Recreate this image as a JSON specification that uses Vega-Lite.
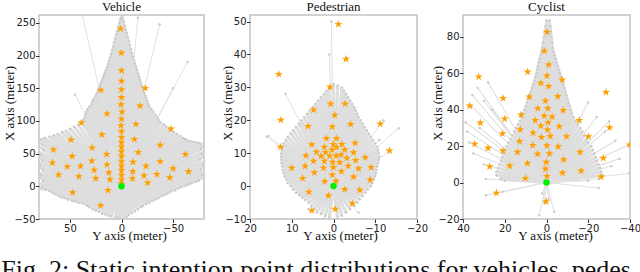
{
"$schema": "https://vega.github.io/schema/vega-lite/v6.json",
"padding": {"left": 1, "top": 0, "right": 0, "bottom": 0},
"background": "white",
"spacing": 46,
"bounds": "flush",
"title": {"text": "Fig. 2: Static intention point distributions for vehicles, pedes", "orient": "bottom", "anchor": "start", "frame": "bounds", "font": "Liberation Serif", "fontSize": 26, "fontWeight": "normal", "color": "#111111", "offset": 14, "dx": -1},
"config": {
  "view": {"stroke": "#c4c4c4", "strokeWidth": 1.5},
  "axis": {"domain": false, "grid": false, "ticks": true, "tickSize": 3.5, "tickColor": "#333333", "labelFont": "DejaVu Sans", "labelFontSize": 10, "labelColor": "#222222", "labelPadding": 0.5, "titleFont": "Liberation Serif", "titleFontSize": 13, "titleFontWeight": "normal", "titleColor": "#111111", "labelFlush": false, "labelOverlap": false},
  "title": {"font": "Liberation Serif", "fontSize": 13, "fontWeight": "normal", "offset": 1, "color": "#111111"}
},
"datasets": {
  "origin": [{"Y": 0, "X": 0}],
  "vehLines": [
    {"Y":80,"X":-4},{"Y":77,"X":0},{"Y":80,"X":4},{"Y":76,"X":8},{"Y":80,"X":12},{"Y":78,"X":16},{"Y":80,"X":20},{"Y":76,"X":24},{"Y":80,"X":28},{"Y":79,"X":32},{"Y":80,"X":36},{"Y":77,"X":40},{"Y":80,"X":44},{"Y":78,"X":48},{"Y":80,"X":52},{"Y":76,"X":56},{"Y":80,"X":60},{"Y":77,"X":64},{"Y":80,"X":68},{"Y":78,"X":72},
    {"Y":75,"X":74},{"Y":70,"X":76},{"Y":66,"X":78},{"Y":62,"X":80},{"Y":58,"X":83},{"Y":54,"X":85},{"Y":50,"X":88},{"Y":46,"X":91},{"Y":42,"X":94},{"Y":38,"X":97},
    {"Y":37,"X":101},{"Y":36,"X":105},{"Y":35,"X":110},{"Y":34,"X":114},{"Y":33,"X":118},{"Y":31,"X":122},{"Y":29,"X":126},{"Y":28,"X":130},{"Y":27,"X":134},{"Y":25,"X":138},{"Y":24,"X":142},{"Y":23,"X":146},{"Y":22,"X":150},{"Y":21,"X":154},{"Y":20,"X":158},{"Y":19,"X":162},{"Y":18,"X":166},{"Y":17,"X":170},{"Y":16,"X":174},{"Y":15,"X":178},{"Y":14,"X":182},{"Y":13,"X":187},{"Y":12,"X":192},{"Y":11,"X":197},{"Y":10,"X":202},{"Y":9,"X":208},{"Y":8,"X":214},{"Y":7,"X":220},{"Y":6,"X":226},{"Y":5,"X":232},{"Y":4,"X":238},{"Y":3,"X":244},{"Y":2,"X":250},{"Y":1,"X":256},{"Y":0,"X":262},
    {"Y":-1,"X":258},{"Y":-2,"X":252},{"Y":-3,"X":246},{"Y":-4,"X":240},{"Y":-5,"X":234},{"Y":-6,"X":228},{"Y":-7,"X":222},{"Y":-8,"X":216},{"Y":-9,"X":210},{"Y":-10,"X":204},{"Y":-11,"X":198},{"Y":-12,"X":193},{"Y":-13,"X":188},{"Y":-14,"X":183},{"Y":-15,"X":178},{"Y":-16,"X":173},{"Y":-17,"X":168},{"Y":-18,"X":163},{"Y":-19,"X":158},{"Y":-20,"X":153},{"Y":-21,"X":148},{"Y":-22,"X":143},{"Y":-23,"X":139},{"Y":-24,"X":135},{"Y":-25,"X":130},{"Y":-26,"X":126},{"Y":-27,"X":122},{"Y":-29,"X":118},{"Y":-31,"X":114},{"Y":-33,"X":109},{"Y":-35,"X":105},{"Y":-36,"X":101},
    {"Y":-38,"X":98},{"Y":-41,"X":95},{"Y":-43,"X":92},{"Y":-46,"X":89},{"Y":-48,"X":86},{"Y":-51,"X":83},{"Y":-54,"X":80},{"Y":-57,"X":77},{"Y":-60,"X":74},{"Y":-62,"X":72},{"Y":-64,"X":70},{"Y":-67,"X":69},{"Y":-70,"X":68},{"Y":-73,"X":67},{"Y":-76,"X":66},{"Y":-80,"X":65},
    {"Y":-80,"X":61},{"Y":-77,"X":57},{"Y":-80,"X":53},{"Y":-78,"X":49},{"Y":-80,"X":45},{"Y":-76,"X":41},{"Y":-80,"X":37},{"Y":-79,"X":33},{"Y":-80,"X":29},{"Y":-77,"X":25},{"Y":-80,"X":21},{"Y":-78,"X":17},{"Y":-80,"X":13},
    {"Y":-75,"X":9},{"Y":-72,"X":7},{"Y":-68,"X":5},{"Y":-65,"X":3},{"Y":-62,"X":1},{"Y":-58,"X":-1},{"Y":-55,"X":-3},{"Y":-52,"X":-6},{"Y":-48,"X":-8},{"Y":-45,"X":-11},{"Y":-42,"X":-13},{"Y":-39,"X":-15},{"Y":-36,"X":-18},{"Y":-33,"X":-20},{"Y":-30,"X":-22},{"Y":-27,"X":-25},{"Y":-24,"X":-27},{"Y":-21,"X":-30},{"Y":-19,"X":-32},{"Y":-16,"X":-35},{"Y":-13,"X":-38},{"Y":-10,"X":-41},{"Y":-7,"X":-44},{"Y":-5,"X":-47},{"Y":-2,"X":-49},{"Y":0,"X":-50},
    {"Y":3,"X":-49},{"Y":6,"X":-48},{"Y":10,"X":-46},{"Y":13,"X":-45},{"Y":16,"X":-43},{"Y":19,"X":-42},{"Y":22,"X":-39},{"Y":25,"X":-37},{"Y":28,"X":-35},{"Y":31,"X":-32},{"Y":33,"X":-30},{"Y":35,"X":-28},{"Y":38,"X":-26},{"Y":42,"X":-25},{"Y":45,"X":-23},{"Y":48,"X":-22},{"Y":52,"X":-20},{"Y":55,"X":-18},{"Y":58,"X":-17},{"Y":61,"X":-15},{"Y":64,"X":-12},{"Y":67,"X":-10},{"Y":70,"X":-7},{"Y":74,"X":-5},{"Y":77,"X":-2}
  ],
  "vehSparse": [
    {"Y":38,"X":262},{"Y":-16,"X":258},{"Y":-37,"X":248},{"Y":-64,"X":190},{"Y":-50,"X":150},{"Y":45,"X":140}
  ],
  "vehStars": [
    {"Y":0.7,"X":241},{"Y":0,"X":204},{"Y":0,"X":177},{"Y":0,"X":161},{"Y":0,"X":148},{"Y":0,"X":136},{"Y":0.5,"X":125},{"Y":-0.5,"X":114},{"Y":0,"X":103},{"Y":0.5,"X":93},{"Y":0,"X":84},{"Y":0,"X":75},{"Y":0,"X":67},{"Y":0,"X":60},{"Y":0,"X":53},{"Y":0,"X":46},{"Y":0,"X":38},{"Y":0,"X":31},{"Y":0,"X":24},{"Y":0,"X":17},{"Y":0,"X":10},{"Y":0,"X":4},
    {"Y":20,"X":147},{"Y":-23,"X":150},{"Y":14,"X":111},{"Y":-18,"X":123},{"Y":39,"X":97},{"Y":-14,"X":95},{"Y":-48,"X":88},{"Y":19,"X":79},{"Y":49,"X":71},{"Y":-12.5,"X":72},{"Y":28.5,"X":59},{"Y":-37.5,"X":63},{"Y":66,"X":56},{"Y":14.4,"X":49},{"Y":-16.3,"X":52},{"Y":-62,"X":49},{"Y":47.8,"X":46},{"Y":28.8,"X":39},{"Y":-37.5,"X":38},{"Y":67,"X":36},{"Y":-11.2,"X":37},{"Y":14,"X":33},{"Y":52.6,"X":30},{"Y":39.7,"X":31},{"Y":-23.7,"X":31},{"Y":26.6,"X":25},{"Y":-50,"X":27},{"Y":61,"X":17.5},{"Y":12.2,"X":21},{"Y":-10.9,"X":22.5},{"Y":-65,"X":22.5},{"Y":41.3,"X":15},{"Y":-21.8,"X":16.4},{"Y":-34.3,"X":18.4},{"Y":25,"X":12.3},{"Y":11.2,"X":10.3},{"Y":-10.6,"X":11.8},{"Y":-46.8,"X":13.3},{"Y":-25.3,"X":5.2},{"Y":13.1,"X":-6},{"Y":47.4,"X":-9.7},{"Y":20.2,"X":-29.6}
  ],
  "pedLines": [
    {"Y":1,"X":-9.5},{"Y":2,"X":-9},{"Y":3,"X":-8.5},{"Y":4,"X":-8},{"Y":4.7,"X":-7},{"Y":5.3,"X":-6},{"Y":6,"X":-5},{"Y":6.8,"X":-4.2},{"Y":7.5,"X":-3.5},{"Y":8.2,"X":-2.8},{"Y":9,"X":-2},{"Y":9.7,"X":-1},{"Y":10.3,"X":0},{"Y":11,"X":1},{"Y":11.3,"X":2},{"Y":11.7,"X":3},{"Y":12,"X":4},{"Y":12.2,"X":5},{"Y":12.3,"X":6},{"Y":12.5,"X":7},{"Y":12.5,"X":8},{"Y":12.6,"X":9},{"Y":12.5,"X":10},{"Y":12.4,"X":11},{"Y":12.2,"X":12},{"Y":12,"X":13},{"Y":11.5,"X":14},{"Y":11,"X":15},{"Y":10.3,"X":16},{"Y":9.7,"X":17},{"Y":9,"X":18},{"Y":8.3,"X":19},{"Y":7.7,"X":20},{"Y":7,"X":21},{"Y":6.3,"X":22},{"Y":5.7,"X":23},{"Y":5,"X":24},{"Y":4.3,"X":25},{"Y":3.7,"X":26},{"Y":3,"X":27},{"Y":2.3,"X":28},{"Y":1.7,"X":29},{"Y":1,"X":30},{"Y":0,"X":31},
    {"Y":-1,"X":30.6},{"Y":-2,"X":30},{"Y":-2.5,"X":29},{"Y":-3,"X":28},{"Y":-3.5,"X":27},{"Y":-4,"X":26},{"Y":-4.5,"X":25},{"Y":-5,"X":24},{"Y":-5.3,"X":23},{"Y":-5.7,"X":22},{"Y":-6,"X":21},{"Y":-6.5,"X":20},{"Y":-7,"X":19},{"Y":-7.5,"X":18},{"Y":-8,"X":17},{"Y":-8.5,"X":16},{"Y":-9,"X":15},{"Y":-9.5,"X":14},{"Y":-10,"X":13},{"Y":-10.5,"X":12},{"Y":-10.7,"X":11},{"Y":-10.8,"X":10},{"Y":-11,"X":9},{"Y":-10.9,"X":8},{"Y":-10.7,"X":7},{"Y":-10.5,"X":6},{"Y":-10.3,"X":5},{"Y":-10.2,"X":4},{"Y":-10,"X":3},{"Y":-9.7,"X":2},{"Y":-9.3,"X":1},{"Y":-9,"X":0},{"Y":-8.3,"X":-1},{"Y":-7.7,"X":-2},{"Y":-7,"X":-3},{"Y":-6.3,"X":-4},{"Y":-5.7,"X":-5},{"Y":-5,"X":-6},{"Y":-4,"X":-7},{"Y":-3,"X":-8},{"Y":-2,"X":-9},{"Y":-1,"X":-10}
  ],
  "pedSparse": [
    {"Y":0.5,"X":50},{"Y":1,"X":40},{"Y":16,"X":15},{"Y":11.5,"X":28},{"Y":15.5,"X":15.2},{"Y":-15.6,"X":17.6},{"Y":-13.6,"X":10.5},{"Y":-12,"X":20},{"Y":6,"X":-7},{"Y":-6,"X":-8},{"Y":2.4,"X":-10},{"Y":-11,"X":14}
  ],
  "pedStars": [
    {"Y":-1.16,"X":49.2},{"Y":-3,"X":38.6},{"Y":13.1,"X":34},{"Y":0.84,"X":30.1},{"Y":4.76,"X":23.2},{"Y":0.68,"X":25},{"Y":-2.76,"X":25},{"Y":-0.28,"X":21.6},{"Y":12.6,"X":20.1},{"Y":6.1,"X":18.2},{"Y":0.28,"X":18},{"Y":-4.1,"X":18.8},{"Y":-11.2,"X":18.9},{"Y":12.7,"X":11.9},{"Y":1.7,"X":14.5},{"Y":-0.7,"X":14.5},{"Y":5.2,"X":12.6},{"Y":2.2,"X":11.9},{"Y":0.04,"X":12.7},{"Y":-2,"X":12.7},{"Y":-5.2,"X":13.1},{"Y":-13.4,"X":10.8},{"Y":4.1,"X":10.4},{"Y":1.9,"X":10.3},{"Y":0.36,"X":11},{"Y":-0.7,"X":11.8},{"Y":-2.7,"X":11},{"Y":-4.8,"X":10.2},{"Y":6.6,"X":9.3},{"Y":3,"X":9.1},{"Y":0.9,"X":9.2},{"Y":-0.6,"X":9.2},{"Y":-1.8,"X":9.5},{"Y":-7.6,"X":8.7},{"Y":4.8,"X":7.6},{"Y":2.2,"X":7.6},{"Y":0.2,"X":7.3},{"Y":-1.5,"X":7.2},{"Y":-3.2,"X":8.5},{"Y":-5.3,"X":7.8},{"Y":6.8,"X":6.1},{"Y":2.4,"X":5.5},{"Y":0.04,"X":5.7},{"Y":-3.5,"X":6.1},{"Y":-6,"X":5.3},{"Y":-9,"X":5.7},{"Y":10,"X":5.5},{"Y":4.6,"X":4.1},{"Y":-1.9,"X":4.5},{"Y":0.28,"X":3.4},{"Y":-4.8,"X":2.8},{"Y":7.4,"X":2.4},{"Y":-8.8,"X":1.9},{"Y":2.1,"X":1.4},{"Y":-0.6,"X":1.5},{"Y":5.9,"X":-1.8},{"Y":1.2,"X":-2.9},{"Y":-2.7,"X":-1},{"Y":-6.3,"X":-1.2},{"Y":-4.5,"X":-5.3},{"Y":5.2,"X":-7.4},{"Y":-0.4,"X":-7}
  ],
  "cycLines": [
    {"Y":-27,"X":4},{"Y":-26.3,"X":6},{"Y":-25.7,"X":8},{"Y":-25,"X":10},{"Y":-24.3,"X":12},{"Y":-23.7,"X":14},{"Y":-23,"X":16},{"Y":-22.3,"X":18},{"Y":-21.5,"X":20},{"Y":-20,"X":22},{"Y":-19.4,"X":24},{"Y":-18.3,"X":26},{"Y":-17.2,"X":28},{"Y":-16.2,"X":30},{"Y":-15.1,"X":32},{"Y":-14,"X":34},{"Y":-13,"X":36},{"Y":-12.2,"X":38},{"Y":-11.7,"X":40},{"Y":-11.2,"X":42},{"Y":-10.6,"X":44},{"Y":-10.1,"X":46},{"Y":-9.6,"X":48},{"Y":-9.1,"X":50},{"Y":-8.6,"X":52},{"Y":-8.1,"X":54},{"Y":-7.6,"X":56},{"Y":-7,"X":58},{"Y":-6.5,"X":60},{"Y":-6,"X":62},{"Y":-5.4,"X":64},{"Y":-4.9,"X":66},{"Y":-4.4,"X":68},{"Y":-3.9,"X":70},{"Y":-3.4,"X":72},{"Y":-3,"X":74},{"Y":-2.7,"X":77},{"Y":-2.4,"X":80},{"Y":-2.1,"X":83},{"Y":-1.8,"X":86},{"Y":-1.5,"X":89},
    {"Y":22,"X":2},{"Y":24,"X":4},{"Y":24,"X":6},{"Y":23.3,"X":8},{"Y":22.6,"X":10},{"Y":21.9,"X":12},{"Y":21.2,"X":14},{"Y":20.5,"X":16},{"Y":19.8,"X":18},{"Y":19.1,"X":20},{"Y":18.2,"X":22},{"Y":17.3,"X":24},{"Y":16.4,"X":26},{"Y":15.5,"X":28},{"Y":14.6,"X":30},{"Y":13.7,"X":32},{"Y":12.8,"X":34},{"Y":12,"X":36},{"Y":11.2,"X":38},{"Y":10.6,"X":40},{"Y":10,"X":42},{"Y":9.4,"X":44},{"Y":8.8,"X":46},{"Y":8.2,"X":48},{"Y":7.6,"X":50},{"Y":7,"X":52},{"Y":6.4,"X":54},{"Y":5.9,"X":56},{"Y":5.4,"X":58},{"Y":4.9,"X":60},{"Y":4.5,"X":62},{"Y":4.1,"X":64},{"Y":3.7,"X":66},{"Y":3.3,"X":68},{"Y":2.8,"X":70},{"Y":2.4,"X":72},{"Y":2,"X":74},{"Y":1.6,"X":77},{"Y":1.2,"X":80},{"Y":0.8,"X":83},{"Y":0.4,"X":86},{"Y":0,"X":89}
  ],
  "cycSparse": [
    {"Y":20,"X":1},{"Y":-20,"X":1},{"Y":-25,"X":2},{"Y":3.5,"X":-18},{"Y":-3.7,"X":-16},{"Y":1,"X":-11},{"Y":-1,"X":-9},{"Y":2,"X":-6},
    {"Y":35.5,"X":48},{"Y":38.7,"X":33},{"Y":38,"X":28},{"Y":37,"X":22},{"Y":36,"X":42},{"Y":33,"X":52},{"Y":30,"X":45},{"Y":28,"X":55},{"Y":26,"X":40},{"Y":32,"X":30},{"Y":35,"X":16},{"Y":30,"X":10},{"Y":29,"X":2},{"Y":29,"X":-7},{"Y":21,"X":-5},{"Y":-30,"X":33.5},{"Y":-33,"X":23},{"Y":-40,"X":21},{"Y":-39.5,"X":5},{"Y":-35,"X":13},{"Y":-28,"X":28},{"Y":-24,"X":36},{"Y":-20,"X":44},{"Y":-31,"X":9},{"Y":-25,"X":-3}
  ],
  "cycStars": [
    {"Y":-0.3,"X":82.6},{"Y":1,"X":72.2},{"Y":-1,"X":64.7},{"Y":9,"X":60.8},{"Y":32.5,"X":58.1},{"Y":-0.2,"X":58.6},{"Y":2.7,"X":54.6},{"Y":-7.5,"X":56.4},{"Y":-1,"X":52.9},{"Y":-28.5,"X":49.6},{"Y":20.8,"X":46.3},{"Y":8.3,"X":47.1},{"Y":-5.4,"X":47.3},{"Y":0.5,"X":44.9},{"Y":36.8,"X":42.1},{"Y":4.2,"X":40.7},{"Y":-0.6,"X":40.8},{"Y":-8,"X":39.7},{"Y":12.2,"X":37.2},{"Y":1.1,"X":36.6},{"Y":-2.7,"X":36.1},{"Y":20,"X":35},{"Y":5.4,"X":34.2},{"Y":-0.8,"X":33},{"Y":-15.7,"X":34.2},{"Y":31.7,"X":32.8},{"Y":-6.1,"X":30.8},{"Y":2.7,"X":31.1},{"Y":12.6,"X":29.1},{"Y":6.4,"X":27.3},{"Y":-0.5,"X":28.9},{"Y":-30.2,"X":30.2},{"Y":21.1,"X":26.9},{"Y":2.4,"X":24.9},{"Y":-1.8,"X":25.5},{"Y":-9.6,"X":25.3},{"Y":-20.1,"X":25.3},{"Y":12.9,"X":22.7},{"Y":34.4,"X":21.2},{"Y":6.6,"X":20.5},{"Y":-0.2,"X":20.3},{"Y":-5.6,"X":19.8},{"Y":-39.8,"X":20.7},{"Y":28,"X":18.9},{"Y":20.9,"X":17.4},{"Y":13.9,"X":16.7},{"Y":-16.1,"X":16.7},{"Y":4.3,"X":15.6},{"Y":-1.4,"X":15.9},{"Y":-8.2,"X":12.6},{"Y":-27.2,"X":13.4},{"Y":9.1,"X":10.6},{"Y":0.16,"X":11.2},{"Y":27.2,"X":8.8},{"Y":17.6,"X":9.2},{"Y":0.5,"X":7.5},{"Y":-7.7,"X":5.3},{"Y":-16.6,"X":6.4},{"Y":10.1,"X":2.4},{"Y":-0.2,"X":3.5},{"Y":-26.2,"X":3.1},{"Y":24,"X":-5.7},{"Y":0.2,"X":-10.4}
  ]
},
"hconcat": [
  {
    "title": "Vehicle",
    "width": 165, "height": 204,
    "encoding": {
      "x": {"field": "Y", "type": "quantitative", "scale": {"domain": [-80, 80], "reverse": true, "nice": false, "zero": false}, "axis": {"values": [50, 0, -50], "title": "Y axis (meter)", "titleX": 90, "titleY": 20, "titleBaseline": "alphabetic"}},
      "y": {"field": "X", "type": "quantitative", "scale": {"domain": [-50, 262], "nice": false, "zero": false}, "axis": {"values": [-50, 0, 50, 100, 150, 200, 250], "title": "X axis (meter)", "titleX": -23, "titleY": 88, "titleAngle": 270, "titleBaseline": "bottom"}}
    },
    "layer": [
      {"data": {"name": "vehLines"}, "mark": {"type": "rule", "color": "#dedede", "strokeWidth": 3.2, "clip": true}, "encoding": {"x2": {"datum": 0}, "y2": {"datum": 0}}},
      {"data": {"name": "vehSparse"}, "mark": {"type": "rule", "color": "#e2e2e2", "strokeWidth": 1, "clip": true}, "encoding": {"x2": {"datum": 0}, "y2": {"datum": 0}}},
      {"data": {"name": "vehLines"}, "mark": {"type": "circle", "color": "#cacaca", "size": 6, "opacity": 1, "clip": true}},
      {"data": {"name": "vehSparse"}, "mark": {"type": "circle", "color": "#cacaca", "size": 6, "opacity": 1, "clip": true}},
      {"data": {"name": "vehStars"}, "mark": {"type": "point", "shape": "M0,-1L0.225,-0.309L0.951,-0.309L0.363,0.118L0.588,0.809L0,0.382L-0.588,0.809L-0.363,0.118L-0.951,-0.309L-0.225,-0.309Z", "filled": true, "color": "#ff9f00", "opacity": 1, "size": 72, "clip": true}},
      {"data": {"name": "origin"}, "mark": {"type": "circle", "color": "#00ee00", "opacity": 1, "size": 42}}
    ]
  },
  {
    "title": "Pedestrian",
    "width": 167, "height": 204,
    "encoding": {
      "x": {"field": "Y", "type": "quantitative", "scale": {"domain": [-20, 20], "reverse": true, "nice": false, "zero": false}, "axis": {"values": [20, 10, 0, -10, -20], "title": "Y axis (meter)", "titleX": 90, "titleY": 20, "titleBaseline": "alphabetic"}},
      "y": {"field": "X", "type": "quantitative", "scale": {"domain": [-10, 52], "nice": false, "zero": false}, "axis": {"values": [-10, 0, 10, 20, 30, 40, 50], "title": "X axis (meter)", "titleX": -16, "titleY": 88, "titleAngle": 270, "titleBaseline": "bottom"}}
    },
    "layer": [
      {"data": {"name": "pedLines"}, "mark": {"type": "rule", "color": "#dedede", "strokeWidth": 3.2, "clip": true}, "encoding": {"x2": {"datum": 0}, "y2": {"datum": 0}}},
      {"data": {"name": "pedSparse"}, "mark": {"type": "rule", "color": "#e2e2e2", "strokeWidth": 1, "clip": true}, "encoding": {"x2": {"datum": 0}, "y2": {"datum": 0}}},
      {"data": {"name": "pedLines"}, "mark": {"type": "circle", "color": "#cacaca", "size": 6, "opacity": 1, "clip": true}},
      {"data": {"name": "pedSparse"}, "mark": {"type": "circle", "color": "#cacaca", "size": 6, "opacity": 1, "clip": true}},
      {"data": {"name": "pedStars"}, "mark": {"type": "point", "shape": "M0,-1L0.225,-0.309L0.951,-0.309L0.363,0.118L0.588,0.809L0,0.382L-0.588,0.809L-0.363,0.118L-0.951,-0.309L-0.225,-0.309Z", "filled": true, "color": "#ff9f00", "opacity": 1, "size": 72, "clip": true}},
      {"data": {"name": "origin"}, "mark": {"type": "circle", "color": "#00ee00", "opacity": 1, "size": 42}}
    ]
  },
  {
    "title": "Cyclist",
    "width": 167, "height": 204,
    "encoding": {
      "x": {"field": "Y", "type": "quantitative", "scale": {"domain": [-40, 40], "reverse": true, "nice": false, "zero": false}, "axis": {"values": [40, 20, 0, -20, -40], "title": "Y axis (meter)", "titleX": 92, "titleY": 20, "titleBaseline": "alphabetic"}},
      "y": {"field": "X", "type": "quantitative", "scale": {"domain": [-20, 92], "nice": false, "zero": false}, "axis": {"values": [-20, 0, 20, 40, 60, 80], "title": "X axis (meter)", "titleX": -19, "titleY": 88, "titleAngle": 270, "titleBaseline": "bottom"}}
    },
    "layer": [
      {"data": {"name": "cycLines"}, "mark": {"type": "rule", "color": "#dedede", "strokeWidth": 3.2, "clip": true}, "encoding": {"x2": {"datum": 0}, "y2": {"datum": 0}}},
      {"data": {"name": "cycSparse"}, "mark": {"type": "rule", "color": "#e0e0e0", "strokeWidth": 1.1, "clip": true}, "encoding": {"x2": {"datum": 0}, "y2": {"datum": 0}}},
      {"data": {"name": "cycLines"}, "mark": {"type": "circle", "color": "#cacaca", "size": 6, "opacity": 1, "clip": true}},
      {"data": {"name": "cycSparse"}, "mark": {"type": "circle", "color": "#cacaca", "size": 6, "opacity": 1, "clip": true}},
      {"data": {"name": "cycStars"}, "mark": {"type": "point", "shape": "M0,-1L0.225,-0.309L0.951,-0.309L0.363,0.118L0.588,0.809L0,0.382L-0.588,0.809L-0.363,0.118L-0.951,-0.309L-0.225,-0.309Z", "filled": true, "color": "#ff9f00", "opacity": 1, "size": 72, "clip": true}},
      {"data": {"name": "origin"}, "mark": {"type": "circle", "color": "#00ee00", "opacity": 1, "size": 42}}
    ]
  }
]
}
